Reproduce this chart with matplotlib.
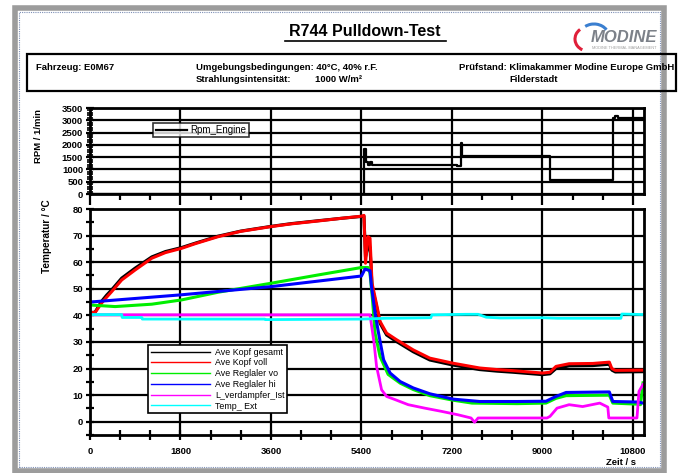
import numpy as np
import matplotlib
matplotlib.use('Agg')
from matplotlib import pyplot as plt
from matplotlib.patches import Rectangle, Arc
from matplotlib.lines import Line2D
from matplotlib.ticker import MultipleLocator

# ---- data ----
rpm_t = [0, 5450, 5500, 5520, 5560, 5600, 7300, 7370, 7400, 9160, 10400, 10450, 10500, 11000]
rpm_engine = [0, 1850, 1300, 1200, 1300, 1180, 1140, 2080, 1540, 580, 3080, 3160, 3080, 3080]

kopf_t = [0, 100, 230, 330, 430, 630, 900, 1230, 1500, 1820, 2100, 2550, 3000, 3610, 4000, 4540,
          5000, 5400, 5450, 5480, 5530, 5570, 5610, 5710, 5770, 5900, 6100, 6430, 6760, 7220,
          7750, 8100, 8410, 9000, 9150, 9270, 9530, 10000, 10330, 10380, 10450, 11000]
kopf_gesamt = [41.0, 41.2, 45.3, 47.6, 49.6, 54.0, 57.8, 62.0, 64.0, 65.5, 67.2, 69.8, 71.7, 73.5,
               74.5, 75.6, 76.5, 77.2, 77.3, 62.0, 66.0, 65.5, 51.0, 42.5, 37.0, 32.6, 30.1, 26.3,
               23.2, 21.3, 19.6, 19.0, 18.6, 17.7, 18.0, 20.0, 21.0, 21.1, 21.6, 19.4, 18.7, 18.8]
kopf_voll = [41.2, 41.0, 44.6, 46.8, 48.9, 53.3, 57.1, 61.5, 63.6, 65.2, 67.0, 69.6, 71.6, 73.4,
             74.4, 75.5, 76.5, 77.3, 77.6, 59.6, 69.6, 69.0, 52.1, 43.3, 37.7, 33.3, 30.8, 27.0,
             23.9, 22.0, 20.2, 19.6, 19.2, 18.3, 18.6, 20.8, 21.8, 21.9, 22.4, 20.0, 19.3, 19.4]

regler_vo_t = [0, 500, 1230, 1820, 2550, 3610, 4540, 5400, 5530, 5570, 5620, 5670, 5770, 5930,
               6170, 6430, 6760, 7220, 7600, 8500, 9070, 9270, 9470, 10330, 10400, 10900, 10950, 11000]
regler_vo = [43.9, 43.3, 44.2, 45.8, 48.7, 52.1, 55.2, 58.0, 58.0, 55.8, 45.8, 33.3, 24.5, 17.8,
             14.5, 12.1, 9.8, 8.1, 7.0, 6.8, 7.0, 8.8, 9.8, 10.0, 7.0, 6.6, 6.4, 14.6]

regler_hi_t = [0, 1800, 3600, 5400, 5470, 5570, 5600, 5670, 5740, 5840, 5970, 6170, 6430, 6760,
               7220, 7750, 8500, 9070, 9270, 9470, 10330, 10400, 10900, 11000]
regler_hi = [45.0, 47.7, 50.8, 54.8, 57.4, 56.8, 50.8, 40.8, 33.3, 23.3, 18.3, 15.1, 12.7, 10.5,
             8.5, 7.6, 7.6, 7.7, 9.5, 11.0, 11.2, 7.6, 7.4, 7.0]

verdampfer_t = [0, 5570, 5650, 5700, 5800, 5900, 6070, 6330, 6660, 6990, 7320, 7580, 7650, 7720,
                8100, 9090, 9150, 9290, 9530, 9800, 10140, 10300, 10320, 10880, 10920, 11000]
verdampfer_ist = [40.2, 40.2, 29.7, 20.8, 12.0, 9.5, 8.3, 6.4, 5.1, 3.9, 2.6, 1.4, -0.2, 1.4,
                  1.4, 1.4, 2.0, 5.1, 6.4, 5.7, 7.0, 5.5, 1.4, 1.4, 11.4, 14.0]

ext_t = [0, 630, 640, 1030, 1040, 3480, 3490, 5400, 5900, 6000, 6780, 6800, 7480, 7720, 7880,
         8170, 9000, 9300, 10560, 10580, 11000]
temp_ext = [40.3, 40.3, 39.2, 39.2, 38.6, 38.6, 38.4, 38.6, 38.9, 38.9, 39.1, 40.2, 40.4, 40.4, 39.3,
            39.0, 39.1, 38.9, 38.9, 40.5, 40.3]

temp_labels = ['Ave Kopf gesamt', 'Ave Kopf voll', 'Ave Reglaler vo', 'Ave Reglaler hi',
               'L_verdampfer_Ist', 'Temp_ Ext']
temp_colors = ['black', '#ff0000', '#00ee00', '#0000ff', '#ff00ff', '#00ffff']
x_ticks = [0, 1800, 3600, 5400, 7200, 9000, 10800]

W, H = 681, 473
SANS = ['Liberation Sans', 'DejaVu Sans']
plt.rcParams['font.family'] = SANS


def fx(px):
    return px / W


def fy(py):
    return 1 - py / H


fig = plt.figure(figsize=(W / 100, H / 100), dpi=100)
fig.patch.set_facecolor('white')

# outer frame
fig.add_artist(Rectangle((fx(15), fy(471)), fx(664) - fx(15), fy(8) - fy(471),
                         transform=fig.transFigure, fill=False, ec='#9c9c9c', lw=4))
fig.add_artist(Rectangle((fx(19), fy(467)), fx(660) - fx(19), fy(12) - fy(467),
                         transform=fig.transFigure, fill=False, ec='#7d8fb5', lw=0.8, ls=(0, (1, 1))))

# title with underline
fig.text(fx(365), fy(32), 'R744 Pulldown-Test', ha='center', va='center',
         fontsize=11.5, fontweight='bold')
fig.add_artist(Line2D([fx(285), fx(446)], [fy(41), fy(41)], transform=fig.transFigure,
                      color='black', lw=1.2))

# logo
fig.text(fx(624), fy(37), 'MODINE', ha='center', va='center', fontsize=12,
         fontweight='bold', style='italic', color='#7c8189')
fig.text(fx(624), fy(48), 'MODINE THERMAL MANAGEMENT', ha='center', va='center', fontsize=2.8,
         color='#a0a0a0')
fig.add_artist(Arc((fx(588), fy(39)), fx(26), 24 / H, theta1=120, theta2=250,
                   transform=fig.transFigure, color='#e0203a', lw=2.2))
fig.add_artist(Arc((fx(594), fy(37)), fx(30), 26 / H, theta1=40, theta2=120,
                   transform=fig.transFigure, color='#3a7fd0', lw=2.2))

# info box
fig.add_artist(Rectangle((fx(27), fy(91)), fx(676) - fx(27), fy(54) - fy(91),
                         transform=fig.transFigure, fill=False, ec='black', lw=1.6))
info_kw = dict(fontsize=6.8, fontweight='bold', va='center')
fig.text(fx(36), fy(68), 'Fahrzeug: E0M67', ha='left', **info_kw)
fig.text(fx(196), fy(67), 'Umgebungsbedingungen: 40°C, 40% r.F.', ha='left', **info_kw)
fig.text(fx(196), fy(79), 'Strahlungsintensität:', ha='left', **info_kw)
fig.text(fx(315), fy(79), '1000 W/m²', ha='left', **info_kw)
fig.text(fx(459), fy(67), 'Prüfstand: Klimakammer Modine Europe GmbH', ha='left', **info_kw)
fig.text(fx(534), fy(79), 'Filderstadt', ha='center', **info_kw)

tick_font = dict(fontsize=6.8, fontweight='bold')

# ---- RPM panel ----
ax1 = fig.add_axes([fx(90), fy(194), fx(644) - fx(90), fy(108) - fy(194)])
ax1.plot(rpm_t, rpm_engine, color='black', lw=1.6, drawstyle='steps-post', label='Rpm_Engine')
ax1.set_xlim(0, 11020)
ax1.set_ylim(0, 3500)
ax1.set_xticks(x_ticks)
ax1.set_xticklabels([])
ax1.xaxis.set_minor_locator(MultipleLocator(600))
ax1.yaxis.set_major_locator(MultipleLocator(500))
ax1.yaxis.set_minor_locator(MultipleLocator(100))
ax1.tick_params(axis='x', which='major', direction='out', length=8, width=1.6)
ax1.tick_params(axis='x', which='minor', direction='out', length=4, width=1.6)
ax1.tick_params(axis='y', which='major', direction='inout', length=6, width=1.6, pad=2)
ax1.tick_params(axis='y', which='minor', direction='inout', length=4, width=1.2)
for lab in ax1.get_yticklabels():
    lab.set(fontsize=6.8, fontweight='bold')
ax1.grid(True, which='major', color='black', lw=1.6)
for s in ax1.spines.values():
    s.set_linewidth(2)
ax1.set_ylabel('RPM / 1/min', fontsize=6.8, fontweight='bold', labelpad=2)
ax1.yaxis.set_label_coords(-0.085, 0.68)
leg1 = ax1.legend(loc='upper left', bbox_to_anchor=(0.114, 0.83), fontsize=7,
                  handlelength=3.2, frameon=True, fancybox=False, borderpad=0.25,
                  handletextpad=0.4, borderaxespad=0)
leg1.get_frame().set_edgecolor('black')
leg1.get_frame().set_linewidth(1.2)

# ---- temperature panel ----
ax2 = fig.add_axes([fx(90), fy(435), fx(644) - fx(90), fy(209) - fy(435)])
series = [(kopf_t, kopf_gesamt), (kopf_t, kopf_voll), (regler_vo_t, regler_vo),
          (regler_hi_t, regler_hi), (verdampfer_t, verdampfer_ist), (ext_t, temp_ext)]
widths = [2.2, 2.2, 2.2, 2.2, 2.0, 2.0]
for (tt, vv), c, lab, w in zip(series, temp_colors, temp_labels, widths):
    ax2.plot(tt, vv, color=c, lw=w, label=lab)
ax2.set_xlim(0, 11020)
ax2.set_ylim(-5, 80)
ax2.set_xticks(x_ticks)
ax2.set_xticklabels([str(v) for v in x_ticks])
ax2.xaxis.set_minor_locator(MultipleLocator(600))
ax2.yaxis.set_major_locator(MultipleLocator(10))
ax2.yaxis.set_minor_locator(MultipleLocator(5))
ax2.tick_params(axis='x', which='both', direction='inout', length=7, width=1.6, pad=5)
ax2.tick_params(axis='y', which='both', direction='inout', length=6, width=1.6, pad=2)
for lab in ax2.get_xticklabels() + ax2.get_yticklabels():
    lab.set(**tick_font)
ax2.grid(True, which='major', color='black', lw=1.6)
ax2.set_axisbelow(True)
for s in ax2.spines.values():
    s.set_linewidth(2)
fig.text(fx(47), fy(236), 'Temperatur / °C', rotation=90, ha='center', va='center',
         fontsize=7.2, fontweight='bold')
fig.text(fx(621), fy(462), 'Zeit / s', ha='center', va='center', **tick_font)

leg2 = ax2.legend(loc='upper left', bbox_to_anchor=(0.105, 0.398), fontsize=6.4,
                  handlelength=6.6, frameon=True, fancybox=False, borderpad=0.3,
                  labelspacing=0.2, handletextpad=0.6, borderaxespad=0, framealpha=1)
leg2.get_frame().set_edgecolor('black')
leg2.get_frame().set_linewidth(1.2)
for line in leg2.get_lines():
    line.set_linewidth(1.0)

fig.savefig('out.png', dpi=100)
